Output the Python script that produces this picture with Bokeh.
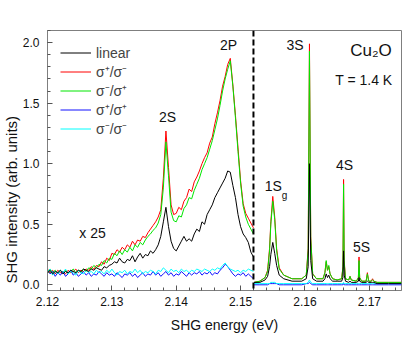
import math
from bokeh.plotting import figure
from bokeh.models import (Range1d, Span, Label, Legend, LegendItem, Title,
                          FixedTicker, CustomJSTickFormatter)
from bokeh.embed import file_html
from bokeh.resources import INLINE

# ---------------- data (left part: x25 scaled) ----------------
E_left = [2.1200, 2.1204, 2.1208, 2.1212, 2.1216, 2.1220, 2.1224, 2.1228, 2.1232, 2.1236,
          2.1240, 2.1244, 2.1248, 2.1252, 2.1256, 2.1260, 2.1264, 2.1268, 2.1272, 2.1276,
          2.1280, 2.1284, 2.1288, 2.1292, 2.1296, 2.1300, 2.1304, 2.1308, 2.1312, 2.1316,
          2.1320, 2.1324, 2.1328, 2.1332, 2.1336, 2.1340, 2.1344, 2.1348, 2.1352, 2.1356,
          2.1360, 2.1364, 2.1368, 2.1372, 2.1376, 2.1380, 2.1384, 2.1388, 2.1392, 2.1396,
          2.1400, 2.1404, 2.1408, 2.1412, 2.1416, 2.1420, 2.1424, 2.1428, 2.1432, 2.1436,
          2.1440, 2.1444, 2.1448, 2.1452, 2.1456, 2.1460, 2.1464, 2.1468, 2.1472, 2.1476,
          2.1480, 2.1484, 2.1488, 2.1492, 2.1496, 2.1500, 2.1504, 2.1508, 2.1512, 2.1516,
          2.1520]

red_left = [0.13, 0.10, 0.12, 0.09, 0.12, 0.10, 0.11, 0.09, 0.12, 0.10,
            0.11, 0.13, 0.10, 0.12, 0.11, 0.13, 0.12, 0.15, 0.13, 0.16,
            0.15, 0.19, 0.17, 0.22, 0.20, 0.26, 0.25, 0.29, 0.27, 0.31,
            0.29, 0.33, 0.31, 0.36, 0.33, 0.37, 0.36, 0.40, 0.39, 0.43,
            0.46, 0.49, 0.52, 0.56, 0.62, 0.88, 1.27, 0.97, 0.66, 0.58,
            0.59, 0.64, 0.62, 0.69, 0.72, 0.79, 0.77, 0.85, 0.89, 0.94,
            1.00, 1.05, 1.09, 1.17, 1.22, 1.33, 1.42, 1.52, 1.64, 1.72,
            1.82, 1.87, 1.65, 1.40, 1.13, 0.86, 0.67, 0.59, 0.55, 0.51,
            0.47]

green_left = [0.11, 0.13, 0.10, 0.12, 0.09, 0.12, 0.10, 0.12, 0.09, 0.11,
              0.13, 0.10, 0.12, 0.10, 0.13, 0.11, 0.14, 0.13, 0.16, 0.14,
              0.17, 0.16, 0.20, 0.18, 0.22, 0.21, 0.26, 0.24, 0.28, 0.25,
              0.29, 0.27, 0.31, 0.28, 0.33, 0.31, 0.35, 0.33, 0.37, 0.40,
              0.42, 0.45, 0.47, 0.51, 0.58, 0.80, 1.18, 0.90, 0.60, 0.53,
              0.52, 0.57, 0.56, 0.63, 0.66, 0.72, 0.71, 0.78, 0.83, 0.88,
              0.95, 1.00, 1.05, 1.12, 1.19, 1.28, 1.37, 1.48, 1.60, 1.70,
              1.78, 1.85, 1.64, 1.38, 1.10, 0.84, 0.65, 0.56, 0.50, 0.46,
              0.42]

black_left = [0.10, 0.12, 0.09, 0.11, 0.10, 0.12, 0.09, 0.11, 0.10, 0.12,
              0.11, 0.10, 0.12, 0.11, 0.13, 0.12, 0.11, 0.13, 0.12, 0.14,
              0.13, 0.12, 0.15, 0.14, 0.16, 0.17, 0.19, 0.18, 0.22, 0.19,
              0.18, 0.21, 0.20, 0.24, 0.19, 0.23, 0.26, 0.22, 0.25, 0.24,
              0.28, 0.26, 0.29, 0.33, 0.40, 0.52, 0.64, 0.48, 0.36, 0.30,
              0.28, 0.32, 0.36, 0.40, 0.36, 0.38, 0.36, 0.42, 0.46, 0.44,
              0.52, 0.50, 0.58, 0.62, 0.66, 0.72, 0.76, 0.80, 0.84, 0.88,
              0.94, 0.93, 0.82, 0.72, 0.58, 0.48, 0.42, 0.39, 0.35, 0.27,
              0.23]

blue_left = [0.12, 0.09, 0.11, 0.07, 0.10, 0.08, 0.11, 0.07, 0.09, 0.12,
             0.08, 0.10, 0.07, 0.09, 0.11, 0.08, 0.10, 0.07, 0.09, 0.08,
             0.11, 0.09, 0.07, 0.10, 0.08, 0.09, 0.07, 0.10, 0.08, 0.06,
             0.09, 0.08, 0.10, 0.07, 0.09, 0.06, 0.08, 0.10, 0.07, 0.09,
             0.08, 0.11, 0.08, 0.10, 0.07, 0.09, 0.11, 0.08, 0.10, 0.07,
             0.09, 0.08, 0.11, 0.09, 0.07, 0.10, 0.08, 0.10, 0.09, 0.11,
             0.08, 0.10, 0.09, 0.11, 0.08, 0.10, 0.09, 0.12, 0.14, 0.17,
             0.15, 0.12, 0.09, 0.07, 0.09, 0.08, 0.10, 0.07, 0.09, 0.07,
             0.05]

cyan_left = [0.10, 0.13, 0.08, 0.11, 0.09, 0.12, 0.10, 0.13, 0.09, 0.11,
             0.10, 0.08, 0.12, 0.10, 0.09, 0.12, 0.10, 0.11, 0.09, 0.12,
             0.10, 0.11, 0.09, 0.12, 0.10, 0.13, 0.10, 0.08, 0.11, 0.10,
             0.12, 0.09, 0.11, 0.10, 0.13, 0.10, 0.12, 0.09, 0.11, 0.10,
             0.12, 0.11, 0.09, 0.12, 0.11, 0.14, 0.12, 0.10, 0.13, 0.11,
             0.12, 0.10, 0.13, 0.11, 0.12, 0.10, 0.12, 0.11, 0.13, 0.12,
             0.11, 0.13, 0.12, 0.11, 0.13, 0.12, 0.14, 0.13, 0.16, 0.18,
             0.15, 0.13, 0.12, 0.11, 0.12, 0.10, 0.12, 0.11, 0.13, 0.12,
             0.11]

# ---------------- data (right part: unscaled) ----------------
E_right = [2.1521, 2.1530, 2.1538, 2.1542, 2.1545, 2.1547, 2.1550, 2.1553, 2.1556, 2.1560,
           2.1567, 2.1580, 2.1595, 2.1602, 2.1605, 2.1607, 2.1609, 2.1612, 2.1618, 2.1628,
           2.1631, 2.1633, 2.1635, 2.1637, 2.1639, 2.1643, 2.1650, 2.1657, 2.1659, 2.1660,
           2.1661, 2.1663, 2.1668, 2.1670, 2.1672, 2.1680, 2.1683, 2.1684, 2.1685, 2.1688,
           2.1695, 2.1697, 2.1699, 2.1703, 2.1705, 2.1707, 2.1712, 2.1730, 2.1750]

red_right = [0.02, 0.03, 0.06, 0.12, 0.30, 0.52, 0.73, 0.56, 0.30, 0.14,
             0.08, 0.05, 0.05, 0.08, 0.30, 1.99, 0.40, 0.09, 0.05, 0.05,
             0.10, 0.19, 0.12, 0.15, 0.09, 0.05, 0.04, 0.05, 0.15, 0.87,
             0.20, 0.05, 0.04, 0.07, 0.04, 0.03, 0.06, 0.23, 0.06, 0.03,
             0.03, 0.10, 0.03, 0.03, 0.05, 0.03, 0.02, 0.02, 0.02]

green_right = [0.02, 0.03, 0.06, 0.11, 0.28, 0.50, 0.69, 0.54, 0.28, 0.13,
               0.08, 0.05, 0.05, 0.08, 0.28, 1.93, 0.38, 0.09, 0.05, 0.05,
               0.10, 0.20, 0.12, 0.16, 0.09, 0.05, 0.04, 0.05, 0.14, 0.83,
               0.18, 0.05, 0.04, 0.07, 0.04, 0.03, 0.06, 0.20, 0.06, 0.03,
               0.03, 0.09, 0.03, 0.03, 0.04, 0.03, 0.02, 0.02, 0.02]

black_right = [0.02, 0.02, 0.04, 0.07, 0.15, 0.25, 0.35, 0.26, 0.16, 0.08,
               0.05, 0.03, 0.03, 0.05, 0.15, 1.00, 0.20, 0.05, 0.03, 0.03,
               0.05, 0.09, 0.06, 0.08, 0.05, 0.03, 0.03, 0.03, 0.06, 0.28,
               0.08, 0.03, 0.02, 0.03, 0.02, 0.02, 0.03, 0.06, 0.03, 0.02,
               0.02, 0.03, 0.02, 0.02, 0.02, 0.02, 0.01, 0.01, 0.01]

blue_right = [0.00, 0.00, 0.00, 0.00, 0.01, 0.01, 0.01, 0.01, 0.01, 0.00,
              0.00, 0.00, 0.00, 0.01, 0.01, 0.02, 0.01, 0.00, 0.00, 0.00,
              0.00, 0.00, 0.00, 0.00, 0.00, 0.00, 0.00, 0.00, 0.00, 0.01,
              0.00, 0.00, 0.00, 0.00, 0.00, 0.00, 0.00, 0.00, 0.00, 0.00,
              0.00, 0.00, 0.00, 0.00, 0.00, 0.00, 0.00, 0.00, 0.00]

cyan_right = [0.01, 0.01, 0.01, 0.01, 0.01, 0.02, 0.02, 0.02, 0.01, 0.01,
              0.01, 0.01, 0.01, 0.01, 0.02, 0.04, 0.02, 0.01, 0.01, 0.01,
              0.01, 0.01, 0.01, 0.01, 0.01, 0.01, 0.01, 0.01, 0.01, 0.02,
              0.01, 0.01, 0.01, 0.01, 0.01, 0.01, 0.01, 0.01, 0.01, 0.01,
              0.01, 0.01, 0.01, 0.01, 0.01, 0.01, 0.01, 0.01, 0.01]

series_labels = ["linear", "σ⁺/σ⁻", "σ⁻/σ⁺", "σ⁺/σ⁺", "σ⁻/σ⁻"]
break_energy = 2.152
x_ticks = [2.12, 2.13, 2.14, 2.15, 2.16, 2.17]
y_ticks = [0.0, 0.5, 1.0, 1.5, 2.0]

# peak / annotation labels (text, x, y)
peak_labels = [("2S", 2.13865, 1.383), ("2P", 2.14812, 1.978), ("3S", 2.15847, 1.978),
               ("4S", 2.16615, 0.986), ("5S", 2.16879, 0.311), ("1S", 2.15508, 0.812),
               ("x 25", 2.12699, 0.424)]

FONT = "Liberation Sans"

p = figure(frame_width=354, frame_height=260,
           x_range=Range1d(2.12, 2.175), y_range=Range1d(-0.047, 2.1),
           output_backend="svg", toolbar_location=None,
           min_border_left=45, min_border_right=10, min_border_top=30, min_border_bottom=44)
p.grid.visible = False
p.background_fill_color = "white"
p.outline_line_color = "#7f7f7f"
p.outline_line_width = 1

C_RED, C_GREEN, C_BLACK, C_BLUE, C_CYAN = "#ff0000", "#00e600", "#000000", "#1010ff", "#00ffff"

r_red = p.line(E_left, red_left, line_color=C_RED, line_width=1)
p.line(E_right, red_right, line_color=C_RED, line_width=1)
r_green = p.line(E_left, green_left, line_color=C_GREEN, line_width=1)
p.line(E_right, green_right, line_color=C_GREEN, line_width=1)
r_blue = p.line(E_left, blue_left, line_color=C_BLUE, line_width=1)
p.line(E_right, blue_right, line_color=C_BLUE, line_width=1)
r_cyan = p.line(E_left, cyan_left, line_color=C_CYAN, line_width=1)
p.line(E_right, cyan_right, line_color=C_CYAN, line_width=1)
r_black = p.line(E_left, black_left, line_color=C_BLACK, line_width=1)
p.line(E_right, black_right, line_color=C_BLACK, line_width=1)

p.add_layout(Span(location=break_energy, dimension="height", line_color="black",
                  line_width=2, line_dash="6 3"))

for ax in (p.xaxis[0], p.yaxis[0]):
    ax.axis_line_color = "#7f7f7f"
    ax.major_tick_in = 5
    ax.major_tick_out = 0
    ax.minor_tick_in = 3
    ax.minor_tick_out = 0
    ax.major_tick_line_color = "#555555"
    ax.minor_tick_line_color = "#555555"
    ax.major_label_text_font = FONT
    ax.major_label_text_font_size = "12px"
    ax.major_label_text_color = "#111111"

p.xaxis[0].ticker = FixedTicker(ticks=x_ticks,
                                minor_ticks=[2.12 + 0.002 * i for i in range(28)])
p.yaxis[0].ticker = FixedTicker(ticks=y_ticks,
                                minor_ticks=[0.1 * i for i in range(22)])
p.xaxis[0].formatter = CustomJSTickFormatter(code="return tick.toFixed(2);")
p.yaxis[0].formatter = CustomJSTickFormatter(code="return tick.toFixed(1);")
p.xaxis[0].major_label_standoff = 6
p.yaxis[0].major_label_standoff = 8
p.xaxis[0].axis_label = "SHG energy (eV)"
p.xaxis[0].axis_label_text_font = FONT
p.xaxis[0].axis_label_text_font_size = "14px"
p.xaxis[0].axis_label_text_font_style = "normal"
p.xaxis[0].axis_label_text_color = "#111111"
p.xaxis[0].axis_label_standoff = 8

# y-axis title: starts near the bottom of the frame, reads upward
p.add_layout(Title(text="SHG intensity (arb. units)", align="left", offset=7, standoff=0,
                   text_font=FONT, text_font_size="15px", text_font_style="normal",
                   text_color="#111111"), "left")

for txt, x, y in peak_labels:
    p.add_layout(Label(x=x, y=y, text=txt, text_align="center", text_baseline="middle",
                       text_font=FONT, text_font_size="14px", text_color="#111111"))
p.add_layout(Label(x=2.15683, y=0.738, text="g", text_align="center", text_baseline="middle",
                   text_font=FONT, text_font_size="10px", text_color="#111111"))
p.add_layout(Label(x=2.16703, y=1.936, text="Cu₂O", text_align="left", text_baseline="middle",
                   text_font=FONT, text_font_size="17px", text_color="#111111"))
p.add_layout(Label(x=2.16470, y=1.688, text="T = 1.4 K", text_align="left", text_baseline="middle",
                   text_font=FONT, text_font_size="14px", text_color="#111111"))

legend = Legend(items=[LegendItem(label=series_labels[0], renderers=[r_black]),
                       LegendItem(label=series_labels[1], renderers=[r_red]),
                       LegendItem(label=series_labels[2], renderers=[r_green]),
                       LegendItem(label=series_labels[3], renderers=[r_blue]),
                       LegendItem(label=series_labels[4], renderers=[r_cyan])],
                location="top_left", margin=13, padding=0, spacing=0,
                glyph_width=31, glyph_height=19, label_height=19, label_standoff=5,
                label_text_font=FONT, label_text_font_size="14px",
                background_fill_alpha=0, border_line_alpha=0)
p.add_layout(legend)

open("out.html", "w").write(file_html(p, INLINE))
